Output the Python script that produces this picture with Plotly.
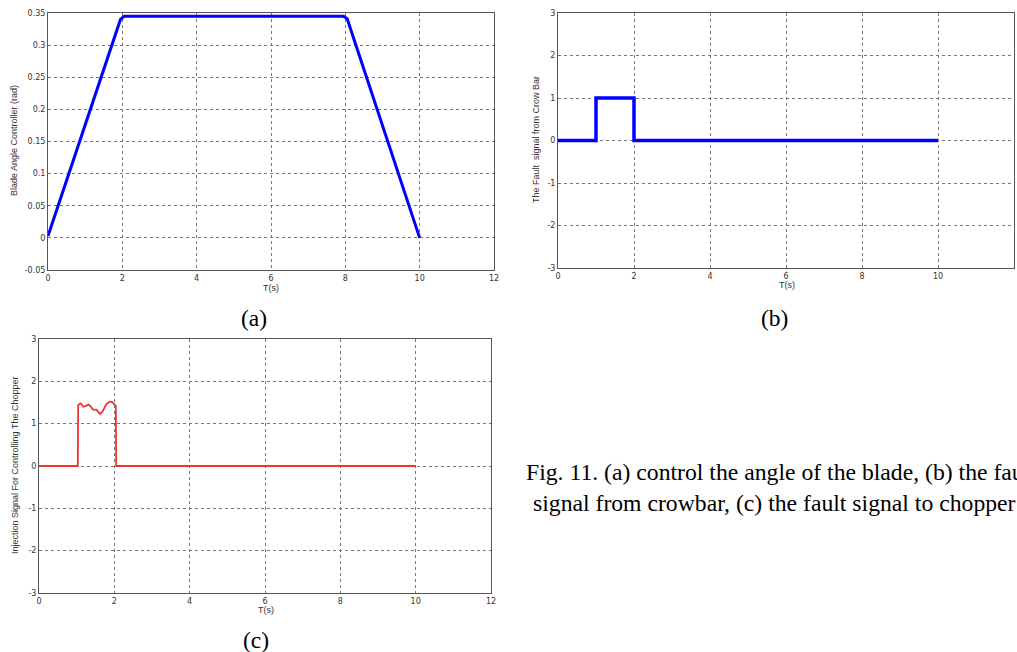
import plotly.graph_objects as go

W, H = 1017, 652

# ---- data ----
t_a = [0, 1.95, 2.05, 7.95, 8.05, 10]
blade = [0.003, 0.340, 0.345, 0.345, 0.341, 0.0]

t_b = [0, 1, 1, 2, 2, 10]
crowbar = [0, 0, 1, 1, 0, 0]

t_c = [0, 1.03, 1.04, 1.07, 1.105, 1.14, 1.17, 1.21, 1.25, 1.32, 1.38, 1.43, 1.52, 1.57,
       1.62, 1.69, 1.74, 1.78, 1.84, 1.89, 1.94, 1.98, 2.04, 2.05, 10]
chopper = [0, 0, 1.44, 1.47, 1.48, 1.44, 1.40, 1.41, 1.43, 1.45, 1.40, 1.33, 1.33, 1.28,
           1.23, 1.29, 1.38, 1.45, 1.50, 1.52, 1.51, 1.48, 1.41, 0, 0]

x_ticks = [0, 2, 4, 6, 8, 10, 12]
a_yticks = [-0.05, 0, 0.05, 0.1, 0.15, 0.2, 0.25, 0.3, 0.35]
a_ylabels = ["-0.05", "0", "0.05", "0.1", "0.15", "0.2", "0.25", "0.3", "0.35"]
bc_yticks = [-3, -2, -1, 0, 1, 2, 3]
bc_ylabels = ["-3", "-2", "-1", "0", "1", "2", "3"]

# ---- layout helpers (page pixel boxes) ----
def dom_x(x0, x1):
    return [x0 / W, min(1.0, x1 / W)]

def dom_y(top, bottom):
    return [1 - bottom / H, 1 - top / H]

boxes = {
    "a": (48, 494, 13, 270),
    "b": (558, 1014, 13, 268),
    "c": (39, 491, 339, 593),
}

fig = go.Figure()

fig.add_trace(go.Scatter(x=t_a, y=blade, mode="lines", xaxis="x", yaxis="y",
                         line=dict(color="#0000ff", width=3), showlegend=False))
fig.add_trace(go.Scatter(x=t_b, y=crowbar, mode="lines", xaxis="x2", yaxis="y2",
                         line=dict(color="#0000ff", width=3.5), showlegend=False))
fig.add_trace(go.Scatter(x=t_c, y=chopper, mode="lines", xaxis="x3", yaxis="y3",
                         line=dict(color="#ee3333", width=1.8), showlegend=False))

tickfont = dict(family="DejaVu Sans", size=8, color="#333")
common = dict(showline=True, mirror=True, linecolor="#555", linewidth=1,
              showgrid=True, gridcolor="#777", griddash="dot", gridwidth=1,
              zeroline=False, ticks="", tickfont=tickfont, fixedrange=True,
              automargin=False)

layout = dict(width=W, height=H, margin=dict(l=0, r=0, t=0, b=0, pad=0, autoexpand=False),
              paper_bgcolor="white", plot_bgcolor="white")

for i, key in enumerate(["a", "b", "c"]):
    sfx = "" if i == 0 else str(i + 1)
    x0, x1, top, bot = boxes[key]
    layout["xaxis" + sfx] = dict(domain=dom_x(x0, x1), range=[0, 12], tickvals=x_ticks,
                                 ticktext=[str(v) for v in x_ticks],
                                 anchor="y" + sfx, **common)
    if key == "a":
        yr, yt, yl = [-0.05, 0.35], a_yticks, a_ylabels
    else:
        yr, yt, yl = [-3, 3], bc_yticks, bc_ylabels
    layout["yaxis" + sfx] = dict(domain=dom_y(top, bot), range=yr, tickvals=yt, ticktext=yl,
                                 anchor="x" + sfx, **common)

fig.update_layout(**layout)

def ann(x, y, text, size=9, angle=0, family="Liberation Sans", color="#333", xanchor="center"):
    fig.add_annotation(x=x / W, y=1 - y / H, xref="paper", yref="paper",
                       text=text, showarrow=False, textangle=angle, xanchor=xanchor,
                       yanchor="middle", font=dict(family=family, size=size, color=color))

# axis titles
ann(271, 288, "T(s)", size=9)
ann(14, 141, "Blade Angle Controller (rad)", size=9, angle=-90)
ann(787, 285, "T(s)", size=9)
ann(536, 140, "The Fault  signal from Crow Bar", size=9, angle=-90)
ann(266, 610, "T(s)", size=9)
ann(15, 466, "Injection Signal For Controlling The Chopper", size=9, angle=-90)

# captions
ann(254, 318, "(a)", size=23.5, family="Liberation Serif", color="black")
ann(774, 318, "(b)", size=23.5, family="Liberation Serif", color="black")
ann(256, 640, "(c)", size=23.5, family="Liberation Serif", color="black")
ann(524, 472, "Fig. 11. (a) control the angle of the blade, (b) the fault", size=23.7,
    family="Liberation Serif", color="black", xanchor="left")
ann(531, 503, "signal from crowbar, (c) the fault signal to chopper", size=23.7,
    family="Liberation Serif", color="black", xanchor="left")

fig.write_html("out.html", config={"displayModeBar": False},
               post_script="document.body.style.margin='0';document.body.style.overflow='hidden';")
